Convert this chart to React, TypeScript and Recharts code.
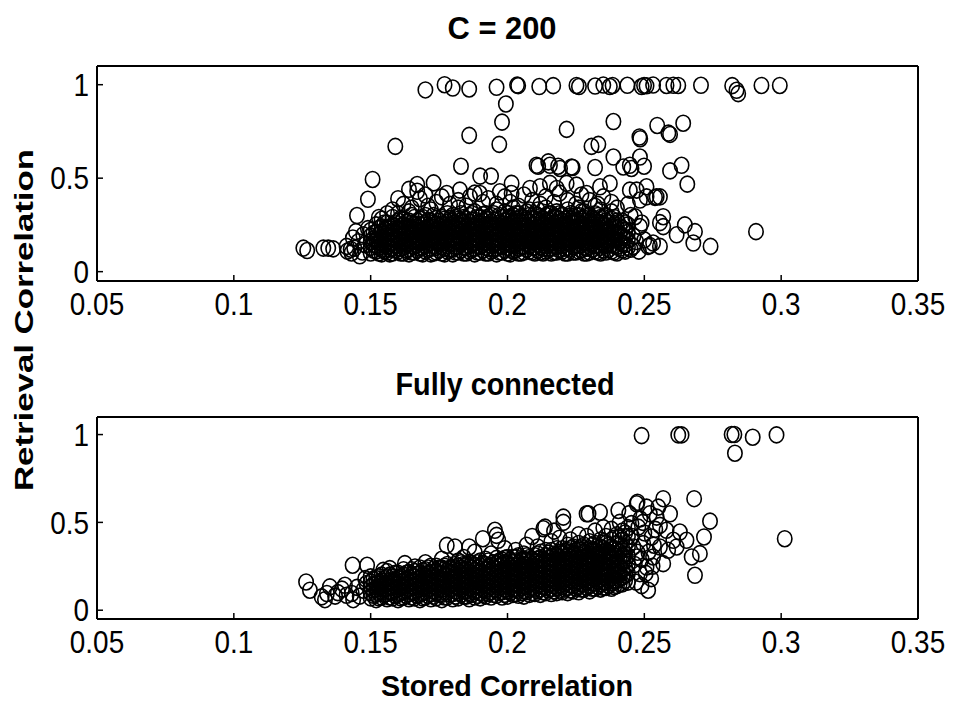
import { ScatterChart, Scatter, XAxis, YAxis } from 'recharts';

// axis ticks
const xTicks = [0.05, 0.1, 0.15, 0.2, 0.25, 0.3, 0.35];
const yTicks = [0, 0.5, 1];

// ---- C = 200 panel ----
// points that reached full retrieval (y ~ 1)
const topSaturated: [number, number][] = [
  [0.170, 0.972], [0.177, 1.0], [0.180, 0.982], [0.186, 0.977], [0.196, 0.986], [0.2035, 0.998],
  [0.2039, 0.995], [0.2116, 0.99], [0.2167, 0.995], [0.2252, 0.996], [0.2261, 0.99], [0.2320, 0.993],
  [0.2350, 0.998], [0.2374, 0.99], [0.2384, 0.996], [0.2438, 0.997], [0.2490, 0.99], [0.2499, 0.996],
  [0.2508, 0.994], [0.2532, 0.998], [0.2581, 0.996], [0.2606, 0.997], [0.2624, 0.996], [0.2707, 0.997],
  [0.2821, 0.995], [0.2837, 0.97], [0.2843, 0.952], [0.2928, 0.996], [0.2995, 0.996],
];

// scattered points between the core band and 1
const topScatter: [number, number][] = [
  [0.1994, 0.897], [0.198, 0.80], [0.186, 0.729], [0.197, 0.681], [0.159, 0.670], [0.2216, 0.761],
  [0.2387, 0.803], [0.2547, 0.782], [0.2594, 0.734], [0.2588, 0.741], [0.2642, 0.794], [0.2482, 0.72],
  [0.2485, 0.711], [0.2307, 0.670], [0.2332, 0.681], [0.183, 0.564], [0.190, 0.511], [0.194, 0.511],
  [0.1507, 0.493], [0.167, 0.466], [0.173, 0.475], [0.149, 0.387], [0.145, 0.30], [0.2106, 0.569],
  [0.2112, 0.564], [0.2149, 0.587], [0.2185, 0.564], [0.2238, 0.557], [0.2320, 0.557], [0.2387, 0.613],
  [0.2423, 0.560], [0.2453, 0.552], [0.2484, 0.613], [0.2499, 0.564], [0.2594, 0.539], [0.2636, 0.569],
  [0.2657, 0.468], [0.2557, 0.40], [0.2539, 0.397], [0.2908, 0.214], [0.2742, 0.135], [0.2679, 0.153],
  [0.2685, 0.214], [0.2648, 0.25], [0.2557, 0.135], [0.2514, 0.135], [0.2618, 0.197], [0.2569, 0.241],
  [0.2557, 0.262], [0.247, 0.161], [0.246, 0.135], [0.2484, 0.241], [0.2466, 0.294], [0.2484, 0.383],
  [0.2472, 0.436], [0.2508, 0.454], [0.244, 0.36], [0.245, 0.30], [0.243, 0.22], [0.246, 0.19],
  [0.249, 0.26], [0.250, 0.17], [0.245, 0.12], [0.248, 0.11], [0.252, 0.14], [0.2015, 0.472],
  [0.2155, 0.569], [0.2192, 0.552], [0.2234, 0.56], [0.2447, 0.569], [0.1778, 0.418], [0.1826, 0.436],
  [0.1863, 0.40], [0.1899, 0.418], [0.1972, 0.427], [0.2015, 0.418], [0.2082, 0.445], [0.2119, 0.454],
  [0.2155, 0.472], [0.2180, 0.445], [0.2216, 0.472], [0.2252, 0.463], [0.2289, 0.418], [0.2338, 0.454],
  [0.2374, 0.472], [0.2447, 0.436], [0.2508, 0.40], [0.2545, 0.40], [0.2569, 0.294], [0.2532, 0.153],
  [0.158, 0.33], [0.162, 0.36], [0.165, 0.34], [0.168, 0.39], [0.171, 0.35], [0.174, 0.37],
  [0.176, 0.40], [0.179, 0.36], [0.182, 0.38], [0.185, 0.35], [0.188, 0.42], [0.191, 0.37],
  [0.193, 0.39], [0.196, 0.36], [0.199, 0.40], [0.201, 0.37], [0.204, 0.35], [0.206, 0.41],
  [0.209, 0.38], [0.212, 0.36], [0.214, 0.40], [0.217, 0.37], [0.219, 0.42], [0.222, 0.38],
  [0.225, 0.36], [0.227, 0.41], [0.230, 0.38], [0.233, 0.36], [0.235, 0.40], [0.238, 0.37],
  [0.240, 0.34], [0.153, 0.29], [0.156, 0.31], [0.167, 0.43], [0.170, 0.41], [0.160, 0.39], [0.164, 0.44],
];

// low-x tail of the C = 200 cloud
const topTail: [number, number][] = [
  [0.1254, 0.126], [0.1268, 0.113], [0.1327, 0.126], [0.1345, 0.126], [0.1363, 0.122], [0.1412, 0.135],
  [0.1427, 0.12], [0.143, 0.10], [0.1446, 0.214], [0.1473, 0.197], [0.146, 0.085], [0.148, 0.144],
  [0.1415, 0.11], [0.144, 0.125], [0.1455, 0.16], [0.147, 0.105], [0.1435, 0.18], [0.149, 0.23],
];

// dense core: stored correlation column -> retrieval values
const topCore: [number, number[]][] = [
  [0.150, [0.10, 0.13, 0.16, 0.19, 0.22]],
  [0.152, [0.11, 0.14, 0.17, 0.21, 0.25]],
  [0.154, [0.095, 0.12, 0.15, 0.18, 0.21, 0.24, 0.28]],
  [0.156, [0.105, 0.135, 0.165, 0.19, 0.23, 0.26]],
  [0.158, [0.10, 0.125, 0.155, 0.185, 0.215, 0.245, 0.29]],
  [0.160, [0.11, 0.14, 0.17, 0.20, 0.23, 0.27, 0.31]],
  [0.162, [0.10, 0.13, 0.16, 0.19, 0.22, 0.25, 0.28]],
  [0.164, [0.095, 0.12, 0.15, 0.18, 0.21, 0.24, 0.27, 0.32]],
  [0.166, [0.105, 0.135, 0.165, 0.195, 0.225, 0.255, 0.29]],
  [0.168, [0.10, 0.125, 0.155, 0.185, 0.215, 0.25, 0.28]],
  [0.170, [0.11, 0.14, 0.17, 0.20, 0.23, 0.26, 0.30]],
  [0.172, [0.095, 0.125, 0.155, 0.18, 0.21, 0.24, 0.27, 0.33]],
  [0.174, [0.105, 0.13, 0.16, 0.19, 0.22, 0.25, 0.285]],
  [0.176, [0.10, 0.135, 0.165, 0.195, 0.225, 0.255, 0.29]],
  [0.178, [0.11, 0.14, 0.17, 0.20, 0.235, 0.265, 0.31]],
  [0.180, [0.095, 0.12, 0.15, 0.18, 0.21, 0.24, 0.27, 0.30]],
  [0.182, [0.105, 0.135, 0.16, 0.19, 0.22, 0.25, 0.28, 0.34]],
  [0.184, [0.10, 0.13, 0.165, 0.195, 0.225, 0.26, 0.29]],
  [0.186, [0.11, 0.14, 0.17, 0.20, 0.23, 0.265, 0.30]],
  [0.188, [0.095, 0.125, 0.155, 0.185, 0.215, 0.245, 0.275, 0.32]],
  [0.190, [0.105, 0.135, 0.165, 0.195, 0.225, 0.255, 0.29]],
  [0.192, [0.10, 0.13, 0.16, 0.19, 0.22, 0.25, 0.28, 0.31]],
  [0.194, [0.11, 0.14, 0.17, 0.205, 0.235, 0.265, 0.30]],
  [0.196, [0.095, 0.125, 0.155, 0.185, 0.215, 0.245, 0.275, 0.33]],
  [0.198, [0.105, 0.135, 0.165, 0.195, 0.225, 0.255, 0.29]],
  [0.200, [0.10, 0.13, 0.16, 0.19, 0.22, 0.25, 0.28, 0.31]],
  [0.202, [0.11, 0.14, 0.17, 0.20, 0.235, 0.265, 0.30, 0.34]],
  [0.204, [0.10, 0.125, 0.155, 0.185, 0.215, 0.245, 0.28, 0.31]],
  [0.206, [0.105, 0.135, 0.165, 0.195, 0.225, 0.26, 0.29]],
  [0.208, [0.11, 0.14, 0.17, 0.20, 0.23, 0.265, 0.30, 0.33]],
  [0.210, [0.10, 0.13, 0.16, 0.19, 0.22, 0.25, 0.28, 0.31]],
  [0.212, [0.105, 0.135, 0.165, 0.195, 0.23, 0.26, 0.295]],
  [0.214, [0.11, 0.14, 0.17, 0.20, 0.235, 0.27, 0.30, 0.34]],
  [0.216, [0.10, 0.125, 0.155, 0.185, 0.215, 0.245, 0.28, 0.31]],
  [0.218, [0.105, 0.135, 0.165, 0.195, 0.225, 0.26, 0.29, 0.32]],
  [0.220, [0.11, 0.14, 0.17, 0.205, 0.24, 0.27, 0.30]],
  [0.222, [0.10, 0.13, 0.16, 0.19, 0.22, 0.25, 0.285, 0.33]],
  [0.224, [0.105, 0.135, 0.165, 0.195, 0.23, 0.26, 0.295]],
  [0.226, [0.11, 0.14, 0.17, 0.20, 0.235, 0.27, 0.30, 0.34]],
  [0.228, [0.10, 0.13, 0.16, 0.19, 0.22, 0.25, 0.285, 0.32]],
  [0.230, [0.105, 0.135, 0.165, 0.20, 0.23, 0.265, 0.30]],
  [0.232, [0.11, 0.14, 0.175, 0.21, 0.24, 0.275, 0.31, 0.35]],
  [0.234, [0.10, 0.13, 0.16, 0.19, 0.225, 0.26, 0.29, 0.33]],
  [0.236, [0.105, 0.14, 0.17, 0.205, 0.24, 0.27, 0.30]],
  [0.238, [0.11, 0.145, 0.18, 0.21, 0.245, 0.28, 0.32]],
  [0.240, [0.10, 0.135, 0.17, 0.20, 0.235, 0.27]],
  [0.242, [0.115, 0.15, 0.19, 0.23, 0.27]],
  [0.244, [0.13, 0.17, 0.21, 0.25]],
];

// second pass of the core, between the columns above
const topCoreFill: [number, number[]][] = [
  [0.151, [0.115, 0.145, 0.175, 0.205]],
  [0.153, [0.10, 0.13, 0.16, 0.195, 0.23]],
  [0.155, [0.11, 0.14, 0.17, 0.20, 0.225, 0.26]],
  [0.157, [0.095, 0.12, 0.15, 0.18, 0.205, 0.24]],
  [0.159, [0.115, 0.14, 0.17, 0.20, 0.23, 0.26]],
  [0.161, [0.10, 0.125, 0.155, 0.185, 0.215, 0.245, 0.285]],
  [0.163, [0.115, 0.145, 0.175, 0.205, 0.235, 0.265]],
  [0.165, [0.105, 0.14, 0.165, 0.20, 0.23, 0.26, 0.30]],
  [0.167, [0.115, 0.145, 0.175, 0.21, 0.24, 0.27]],
  [0.169, [0.095, 0.13, 0.16, 0.19, 0.22, 0.25, 0.29]],
  [0.171, [0.12, 0.15, 0.18, 0.21, 0.24, 0.275]],
  [0.173, [0.10, 0.14, 0.17, 0.20, 0.235, 0.26, 0.30]],
  [0.175, [0.115, 0.15, 0.18, 0.21, 0.24, 0.27]],
  [0.177, [0.095, 0.125, 0.155, 0.185, 0.215, 0.245, 0.28]],
  [0.179, [0.12, 0.15, 0.185, 0.215, 0.25, 0.285]],
  [0.181, [0.105, 0.135, 0.165, 0.20, 0.23, 0.26, 0.29]],
  [0.183, [0.115, 0.15, 0.18, 0.21, 0.24, 0.27, 0.31]],
  [0.185, [0.10, 0.13, 0.16, 0.19, 0.215, 0.245, 0.28]],
  [0.187, [0.12, 0.15, 0.18, 0.21, 0.24, 0.275, 0.31]],
  [0.189, [0.105, 0.14, 0.17, 0.20, 0.23, 0.26, 0.29]],
  [0.191, [0.115, 0.145, 0.175, 0.21, 0.24, 0.27, 0.305]],
  [0.193, [0.10, 0.125, 0.155, 0.185, 0.215, 0.25, 0.28]],
  [0.195, [0.12, 0.15, 0.18, 0.21, 0.24, 0.275, 0.31]],
  [0.197, [0.105, 0.14, 0.17, 0.20, 0.23, 0.26, 0.30]],
  [0.199, [0.115, 0.145, 0.175, 0.21, 0.24, 0.27, 0.32]],
  [0.201, [0.095, 0.12, 0.15, 0.18, 0.205, 0.24, 0.27, 0.29]],
  [0.203, [0.115, 0.145, 0.18, 0.21, 0.245, 0.28, 0.31]],
  [0.205, [0.10, 0.135, 0.165, 0.195, 0.23, 0.26, 0.295]],
  [0.207, [0.12, 0.15, 0.18, 0.21, 0.24, 0.275, 0.32]],
  [0.209, [0.105, 0.13, 0.16, 0.19, 0.22, 0.25, 0.285]],
  [0.211, [0.115, 0.145, 0.175, 0.205, 0.235, 0.27, 0.30, 0.33]],
  [0.213, [0.10, 0.125, 0.155, 0.185, 0.215, 0.25, 0.28]],
  [0.215, [0.12, 0.15, 0.18, 0.21, 0.24, 0.275, 0.31]],
  [0.217, [0.105, 0.14, 0.17, 0.20, 0.23, 0.26, 0.295]],
  [0.219, [0.115, 0.145, 0.175, 0.21, 0.245, 0.28, 0.31]],
  [0.221, [0.10, 0.125, 0.155, 0.185, 0.215, 0.25, 0.28]],
  [0.223, [0.12, 0.15, 0.18, 0.21, 0.24, 0.27, 0.31]],
  [0.225, [0.105, 0.14, 0.17, 0.20, 0.235, 0.265, 0.30]],
  [0.227, [0.115, 0.145, 0.18, 0.215, 0.25, 0.28, 0.32]],
  [0.229, [0.10, 0.125, 0.155, 0.185, 0.21, 0.24, 0.27, 0.30]],
  [0.231, [0.12, 0.15, 0.18, 0.22, 0.25, 0.285]],
  [0.233, [0.105, 0.14, 0.17, 0.20, 0.23, 0.265, 0.30]],
  [0.235, [0.115, 0.15, 0.185, 0.22, 0.255, 0.29]],
  [0.237, [0.12, 0.155, 0.19, 0.225, 0.26]],
  [0.239, [0.105, 0.14, 0.175, 0.21, 0.25, 0.29]],
  [0.241, [0.125, 0.16, 0.20, 0.24]],
  [0.243, [0.11, 0.145, 0.18, 0.22, 0.26]],
];

// ---- Fully connected panel ----
const bottomSaturated: [number, number][] = [
  [0.249, 0.994], [0.2624, 0.998], [0.2636, 0.998], [0.2819, 1.0], [0.2829, 1.0], [0.2896, 0.985],
  [0.2983, 0.998], [0.2831, 0.894], [0.3013, 0.407],
];

const bottomScatter: [number, number][] = [
  [0.2475, 0.615], [0.2508, 0.587], [0.252, 0.549], [0.2545, 0.53], [0.2569, 0.635], [0.2594, 0.549],
  [0.2557, 0.483], [0.2581, 0.455], [0.2606, 0.398], [0.2630, 0.445], [0.2654, 0.398], [0.2673, 0.303],
  [0.2703, 0.322], [0.2718, 0.417], [0.2740, 0.507], [0.2682, 0.635], [0.2685, 0.199], [0.2514, 0.114],
  [0.2484, 0.208], [0.2508, 0.246], [0.2532, 0.303], [0.2569, 0.265], [0.2587, 0.341], [0.2496, 0.379],
  [0.2472, 0.303], [0.2478, 0.473], [0.2527, 0.417], [0.2557, 0.36], [0.2460, 0.36], [0.2453, 0.493],
  [0.2551, 0.587], [0.2618, 0.36], [0.2455, 0.42], [0.2465, 0.26], [0.2475, 0.33], [0.249, 0.29],
  [0.250, 0.44], [0.2505, 0.21], [0.2515, 0.33], [0.253, 0.25], [0.254, 0.46], [0.2535, 0.37],
  [0.2525, 0.18], [0.2485, 0.52], [0.2445, 0.55], [0.2495, 0.50], [0.247, 0.16], [0.249, 0.14],
  [0.1434, 0.256], [0.1487, 0.256], [0.1546, 0.227], [0.157, 0.237], [0.1625, 0.265], [0.1662, 0.246],
  [0.1778, 0.369], [0.1808, 0.36], [0.191, 0.407], [0.196, 0.426], [0.1954, 0.455], [0.1966, 0.398],
  [0.2137, 0.473], [0.2204, 0.53], [0.2204, 0.50], [0.2131, 0.464], [0.2289, 0.549], [0.2338, 0.558],
  [0.2296, 0.549], [0.2405, 0.568], [0.2472, 0.606], [0.170, 0.27], [0.176, 0.29], [0.184, 0.30],
  [0.188, 0.33], [0.194, 0.32], [0.199, 0.35], [0.203, 0.34], [0.207, 0.37], [0.211, 0.36],
  [0.216, 0.39], [0.219, 0.41], [0.223, 0.40], [0.226, 0.43], [0.229, 0.42], [0.232, 0.45],
  [0.235, 0.47], [0.238, 0.46], [0.241, 0.50], [0.186, 0.36], [0.209, 0.42], [0.217, 0.45],
];

const bottomTail: [number, number][] = [
  [0.1264, 0.161], [0.1278, 0.114], [0.1321, 0.076], [0.134, 0.095], [0.1351, 0.133], [0.1333, 0.06],
  [0.1406, 0.142], [0.1431, 0.095], [0.1436, 0.06], [0.1412, 0.085], [0.1485, 0.152], [0.1473, 0.114],
  [0.138, 0.10], [0.145, 0.13], [0.146, 0.08], [0.148, 0.18], [0.1395, 0.12], [0.137, 0.08],
];

const bottomCore: [number, number[]][] = [
  [0.150, [0.07, 0.10, 0.13, 0.16, 0.19]],
  [0.152, [0.06, 0.09, 0.12, 0.15, 0.18]],
  [0.154, [0.075, 0.105, 0.135, 0.165, 0.20]],
  [0.156, [0.065, 0.095, 0.125, 0.155, 0.19, 0.22]],
  [0.158, [0.07, 0.10, 0.13, 0.16, 0.19]],
  [0.160, [0.06, 0.09, 0.12, 0.15, 0.18, 0.21]],
  [0.162, [0.075, 0.105, 0.135, 0.165, 0.20, 0.23]],
  [0.164, [0.065, 0.095, 0.125, 0.155, 0.185, 0.215]],
  [0.166, [0.07, 0.10, 0.13, 0.16, 0.19, 0.22]],
  [0.168, [0.06, 0.09, 0.12, 0.15, 0.18, 0.21, 0.24]],
  [0.170, [0.075, 0.105, 0.135, 0.165, 0.195, 0.23]],
  [0.172, [0.065, 0.095, 0.125, 0.155, 0.185, 0.215, 0.25]],
  [0.174, [0.07, 0.10, 0.13, 0.16, 0.19, 0.22, 0.25]],
  [0.176, [0.06, 0.09, 0.12, 0.15, 0.18, 0.21, 0.24]],
  [0.178, [0.075, 0.105, 0.135, 0.165, 0.195, 0.225, 0.26]],
  [0.180, [0.065, 0.095, 0.125, 0.155, 0.185, 0.215, 0.245]],
  [0.182, [0.07, 0.10, 0.13, 0.16, 0.19, 0.22, 0.25, 0.28]],
  [0.184, [0.08, 0.11, 0.14, 0.17, 0.20, 0.23, 0.26]],
  [0.186, [0.065, 0.095, 0.125, 0.155, 0.185, 0.215, 0.245, 0.27]],
  [0.188, [0.075, 0.105, 0.135, 0.165, 0.195, 0.225, 0.255]],
  [0.190, [0.07, 0.10, 0.13, 0.16, 0.19, 0.22, 0.25, 0.28]],
  [0.192, [0.08, 0.11, 0.14, 0.17, 0.20, 0.23, 0.26, 0.29]],
  [0.194, [0.075, 0.105, 0.135, 0.165, 0.195, 0.225, 0.255]],
  [0.196, [0.085, 0.115, 0.145, 0.175, 0.205, 0.235, 0.265, 0.295]],
  [0.198, [0.075, 0.105, 0.135, 0.165, 0.195, 0.225, 0.255, 0.285]],
  [0.200, [0.08, 0.11, 0.14, 0.17, 0.20, 0.23, 0.26, 0.30]],
  [0.202, [0.09, 0.12, 0.15, 0.18, 0.21, 0.24, 0.27, 0.30]],
  [0.204, [0.085, 0.115, 0.145, 0.175, 0.205, 0.235, 0.265, 0.31]],
  [0.206, [0.08, 0.11, 0.14, 0.17, 0.20, 0.23, 0.26, 0.29, 0.32]],
  [0.208, [0.09, 0.12, 0.15, 0.18, 0.21, 0.24, 0.27, 0.30]],
  [0.210, [0.095, 0.125, 0.155, 0.185, 0.215, 0.245, 0.275, 0.31]],
  [0.212, [0.09, 0.12, 0.15, 0.18, 0.21, 0.24, 0.27, 0.30, 0.33]],
  [0.214, [0.10, 0.13, 0.16, 0.19, 0.22, 0.25, 0.28, 0.31, 0.34]],
  [0.216, [0.095, 0.125, 0.155, 0.185, 0.215, 0.245, 0.275, 0.305, 0.34]],
  [0.218, [0.10, 0.13, 0.16, 0.19, 0.22, 0.25, 0.28, 0.31, 0.35]],
  [0.220, [0.105, 0.135, 0.165, 0.195, 0.225, 0.255, 0.285, 0.32, 0.35]],
  [0.222, [0.10, 0.13, 0.16, 0.19, 0.22, 0.25, 0.28, 0.31, 0.34, 0.37]],
  [0.224, [0.11, 0.14, 0.17, 0.20, 0.23, 0.26, 0.29, 0.32, 0.36]],
  [0.226, [0.105, 0.135, 0.165, 0.195, 0.225, 0.255, 0.285, 0.315, 0.35, 0.38]],
  [0.228, [0.12, 0.15, 0.18, 0.21, 0.24, 0.27, 0.30, 0.33, 0.37]],
  [0.230, [0.11, 0.14, 0.17, 0.20, 0.23, 0.26, 0.29, 0.32, 0.35, 0.39]],
  [0.232, [0.125, 0.155, 0.185, 0.215, 0.245, 0.275, 0.305, 0.34, 0.38]],
  [0.234, [0.12, 0.15, 0.18, 0.21, 0.24, 0.27, 0.30, 0.33, 0.36, 0.40]],
  [0.236, [0.13, 0.16, 0.19, 0.22, 0.25, 0.28, 0.31, 0.34, 0.38, 0.42]],
  [0.238, [0.125, 0.155, 0.185, 0.22, 0.255, 0.29, 0.325, 0.36, 0.40]],
  [0.240, [0.14, 0.17, 0.20, 0.235, 0.27, 0.305, 0.34, 0.38, 0.43]],
  [0.242, [0.15, 0.19, 0.23, 0.27, 0.31, 0.35, 0.40, 0.45]],
  [0.244, [0.16, 0.21, 0.26, 0.31, 0.36, 0.42, 0.47]],
];

const bottomCoreFill: [number, number[]][] = [
  [0.151, [0.085, 0.115, 0.145, 0.175]],
  [0.153, [0.07, 0.10, 0.13, 0.16, 0.19]],
  [0.155, [0.09, 0.12, 0.15, 0.18]],
  [0.157, [0.075, 0.105, 0.135, 0.165, 0.20]],
  [0.159, [0.085, 0.115, 0.145, 0.175, 0.21]],
  [0.161, [0.07, 0.10, 0.13, 0.16, 0.19]],
  [0.163, [0.085, 0.115, 0.145, 0.18, 0.21]],
  [0.165, [0.075, 0.105, 0.14, 0.17, 0.20, 0.23]],
  [0.167, [0.085, 0.115, 0.145, 0.175, 0.205]],
  [0.169, [0.07, 0.10, 0.13, 0.165, 0.195, 0.225]],
  [0.171, [0.085, 0.12, 0.15, 0.18, 0.21, 0.24]],
  [0.173, [0.08, 0.11, 0.14, 0.17, 0.20, 0.235]],
  [0.175, [0.09, 0.12, 0.15, 0.18, 0.21, 0.24]],
  [0.177, [0.075, 0.105, 0.135, 0.17, 0.20, 0.23, 0.25]],
  [0.179, [0.09, 0.12, 0.15, 0.18, 0.21, 0.24]],
  [0.181, [0.08, 0.11, 0.14, 0.175, 0.205, 0.235, 0.26]],
  [0.183, [0.09, 0.12, 0.15, 0.18, 0.21, 0.24, 0.27]],
  [0.185, [0.08, 0.11, 0.14, 0.17, 0.20, 0.23, 0.26]],
  [0.187, [0.09, 0.12, 0.15, 0.18, 0.21, 0.24, 0.265]],
  [0.189, [0.085, 0.115, 0.145, 0.18, 0.21, 0.24, 0.27]],
  [0.191, [0.09, 0.12, 0.15, 0.18, 0.21, 0.235, 0.265]],
  [0.193, [0.095, 0.125, 0.155, 0.185, 0.215, 0.245, 0.28]],
  [0.195, [0.09, 0.12, 0.15, 0.18, 0.21, 0.24, 0.27]],
  [0.197, [0.10, 0.13, 0.16, 0.19, 0.22, 0.25, 0.28]],
  [0.199, [0.09, 0.12, 0.15, 0.18, 0.21, 0.24, 0.27, 0.295]],
  [0.201, [0.10, 0.13, 0.16, 0.19, 0.22, 0.25, 0.285]],
  [0.203, [0.095, 0.125, 0.155, 0.19, 0.22, 0.25, 0.28, 0.30]],
  [0.205, [0.10, 0.13, 0.16, 0.19, 0.22, 0.25, 0.28]],
  [0.207, [0.105, 0.135, 0.165, 0.195, 0.225, 0.255, 0.285, 0.31]],
  [0.209, [0.10, 0.13, 0.16, 0.19, 0.225, 0.26, 0.29]],
  [0.211, [0.11, 0.14, 0.17, 0.20, 0.23, 0.26, 0.29, 0.32]],
  [0.213, [0.105, 0.135, 0.165, 0.20, 0.23, 0.26, 0.29]],
  [0.215, [0.115, 0.145, 0.175, 0.205, 0.235, 0.265, 0.295, 0.325]],
  [0.217, [0.11, 0.14, 0.17, 0.20, 0.23, 0.26, 0.29, 0.32]],
  [0.219, [0.115, 0.145, 0.175, 0.21, 0.24, 0.27, 0.30, 0.33]],
  [0.221, [0.12, 0.15, 0.18, 0.21, 0.24, 0.27, 0.30, 0.335]],
  [0.223, [0.115, 0.145, 0.175, 0.205, 0.235, 0.27, 0.30, 0.33, 0.35]],
  [0.225, [0.125, 0.155, 0.185, 0.215, 0.245, 0.275, 0.305, 0.34]],
  [0.227, [0.12, 0.15, 0.18, 0.21, 0.24, 0.27, 0.30, 0.33, 0.36]],
  [0.229, [0.13, 0.16, 0.19, 0.22, 0.25, 0.28, 0.31, 0.345]],
  [0.231, [0.125, 0.155, 0.185, 0.215, 0.25, 0.28, 0.31, 0.34, 0.37]],
  [0.233, [0.135, 0.165, 0.195, 0.225, 0.255, 0.29, 0.32, 0.35]],
  [0.235, [0.13, 0.16, 0.19, 0.22, 0.25, 0.285, 0.32, 0.35, 0.39]],
  [0.237, [0.14, 0.17, 0.20, 0.235, 0.27, 0.30, 0.33, 0.37]],
  [0.239, [0.135, 0.165, 0.20, 0.235, 0.27, 0.31, 0.35, 0.41]],
  [0.241, [0.15, 0.18, 0.21, 0.25, 0.29, 0.33, 0.37, 0.42]],
  [0.243, [0.17, 0.20, 0.24, 0.28, 0.32, 0.38, 0.44]],
];

type Pt = { x: number; y: number };
const toPts = (list: [number, number][]): Pt[] => list.map(([x, y]) => ({ x, y }));
const colPts = (cols: [number, number[]][]): Pt[] =>
  cols.flatMap(([x, ys]) => ys.map((y) => ({ x, y })));

const topData = [
  ...toPts(topTail), ...colPts(topCore), ...colPts(topCoreFill), ...toPts(topScatter), ...toPts(topSaturated),
];
const bottomData = [
  ...toPts(bottomTail), ...colPts(bottomCore), ...colPts(bottomCoreFill), ...toPts(bottomScatter), ...toPts(bottomSaturated),
];

const FONT = '"Liberation Sans", Arial, Helvetica, sans-serif';

// matlab 'o' marker, a bit taller than wide
const Ring = (props: any) => {
  const { cx, cy } = props;
  if (cx == null || cy == null) return <g />;
  return <ellipse cx={cx} cy={cy} rx={7.2} ry={8} fill="none" stroke="#000" strokeWidth={1.6} />;
};

// tick labels: the figure is squeezed horizontally, so narrow the glyphs a bit
const AxisTick = (props: any) => {
  const { x, y, payload, textAnchor } = props;
  const dy = textAnchor === 'end' ? '0.36em' : '0.72em';
  return (
    <g transform={`translate(${x},${y})`}>
      <text
        transform="scale(0.9,1)"
        textAnchor={textAnchor}
        dy={dy}
        fontSize={31}
        fontFamily={FONT}
        fill="#000"
      >
        {String(payload.value)}
      </text>
    </g>
  );
};

interface PanelProps {
  data: Pt[];
  top: number;
  height: number;
  marginTop: number;
  xAxisHeight: number;
}

function Panel({ data, top, height, marginTop, xAxisHeight }: PanelProps) {
  const axisLine = { stroke: '#000', strokeWidth: 2 };
  const tickLine = { stroke: '#000', strokeWidth: 1.5 };
  return (
    <div style={{ position: 'absolute', left: 0, top }}>
      <ScatterChart width={953} height={height} margin={{ top: marginTop, right: 34, bottom: 0, left: 0 }}>
        <XAxis
          xAxisId="b"
          type="number"
          dataKey="x"
          domain={[0.05, 0.35]}
          ticks={xTicks}
          interval={0}
          allowDataOverflow
          height={xAxisHeight}
          tickSize={-6}
          tickMargin={18}
          tick={<AxisTick />}
          axisLine={axisLine}
          tickLine={tickLine}
        />
        <XAxis
          xAxisId="t"
          orientation="top"
          type="number"
          dataKey="x"
          domain={[0.05, 0.35]}
          ticks={xTicks}
          interval={0}
          allowDataOverflow
          height={1}
          tickSize={-6}
          tick={false}
          axisLine={axisLine}
          tickLine={tickLine}
        />
        <YAxis
          yAxisId="l"
          type="number"
          dataKey="y"
          domain={[-0.05, 1.1]}
          ticks={yTicks}
          interval={0}
          allowDataOverflow
          width={97}
          tickSize={-6}
          tickMargin={14}
          tick={<AxisTick />}
          axisLine={axisLine}
          tickLine={tickLine}
        />
        <YAxis
          yAxisId="r"
          orientation="right"
          type="number"
          dataKey="y"
          domain={[-0.05, 1.1]}
          ticks={yTicks}
          interval={0}
          allowDataOverflow
          width={1}
          tickSize={-6}
          tick={false}
          axisLine={axisLine}
          tickLine={tickLine}
        />
        <Scatter data={data} xAxisId="b" yAxisId="l" shape={Ring} isAnimationActive={false} />
      </ScatterChart>
    </div>
  );
}

export default function App() {
  return (
    <div style={{ position: 'absolute', left: 0, top: 0, width: 953, height: 704, background: '#fff' }}>
      <Panel data={topData} top={0} height={340} marginTop={65} xAxisHeight={59} />
      <Panel data={bottomData} top={340} height={364} marginTop={76} xAxisHeight={85} />
      <svg
        width={953}
        height={704}
        style={{ position: 'absolute', left: 0, top: 0, pointerEvents: 'none' }}
      >
        <text x={502} y={39} textAnchor="middle" fontFamily={FONT} fontWeight="bold" fontSize={32}
          textLength={109} lengthAdjust="spacingAndGlyphs" fill="#000">
          C = 200
        </text>
        <text x={505} y={395} textAnchor="middle" fontFamily={FONT} fontWeight="bold" fontSize={32}
          textLength={219} lengthAdjust="spacingAndGlyphs" fill="#000">
          Fully connected
        </text>
        <text x={507} y={696} textAnchor="middle" fontFamily={FONT} fontWeight="bold" fontSize={30}
          textLength={252} lengthAdjust="spacingAndGlyphs" fill="#000">
          Stored Correlation
        </text>
        <text
          transform="translate(33 320) rotate(-90)"
          textAnchor="middle"
          fontFamily={FONT}
          fontWeight="bold"
          fontSize={25}
          textLength={342}
          lengthAdjust="spacingAndGlyphs"
          fill="#000"
        >
          Retrieval Correlation
        </text>
      </svg>
    </div>
  );
}
